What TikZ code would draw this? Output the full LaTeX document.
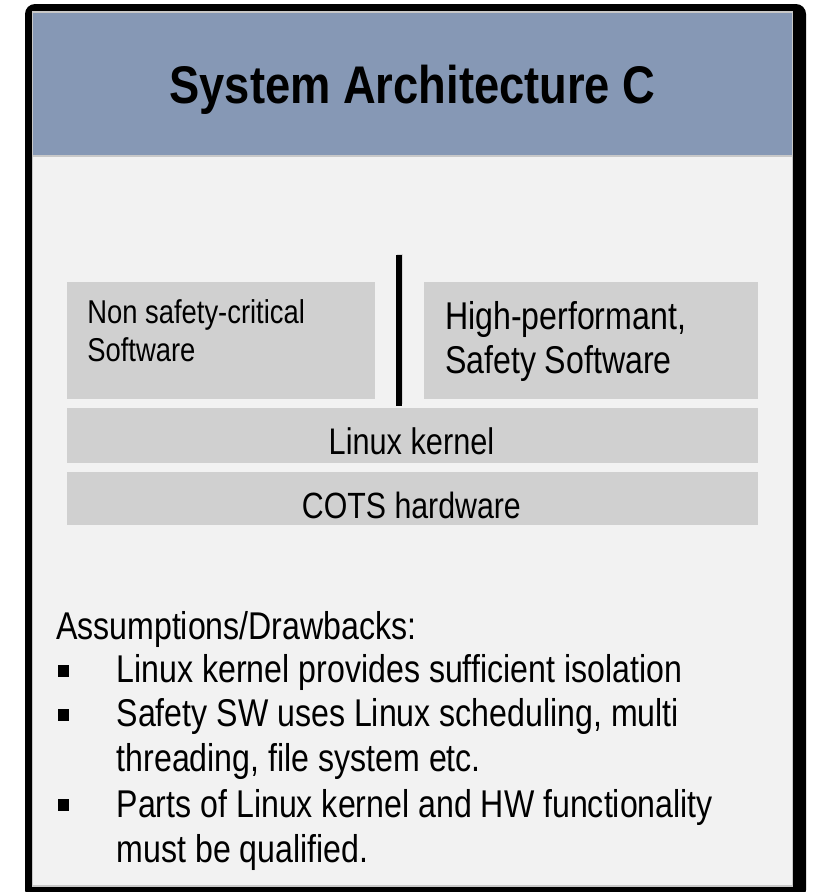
\documentclass[tikz,border=0pt]{standalone}
\usepackage{fontspec}
\newfontfamily\cond[FakeStretch=0.83]{Liberation Sans}
\newfontfamily\condtitle[FakeStretch=0.855]{Liberation Sans}
\definecolor{bandblue}{HTML}{8698B5}
\definecolor{panelgray}{HTML}{F2F2F2}
\definecolor{boxgray}{HTML}{D0D0D0}
\definecolor{edgegray}{HTML}{C8C8C8}
\tikzset{
  layerbox/.style={rectangle, fill=boxgray, draw=none, inner sep=0pt},
  txt/.style={inner sep=0pt, outer sep=0pt, text=black},
  bulletsq/.style={rectangle, fill=black, minimum width=11.5pt, minimum height=11.5pt, inner sep=0pt},
}
\begin{document}
\begin{tikzpicture}[x=1pt, y=-1pt]
\useasboundingbox (0,0) rectangle (813,892);
\fill[white] (0,0) rectangle (813,892);
% frame
\fill[black, rounded corners=10pt] (25,4) rectangle (806,900);
\fill[panelgray] (32.5,12) rectangle (792.5,886);
\fill[bandblue] (33,12.5) rectangle (792,156);
\draw[edgegray, line width=1.2pt] (32.5,12) rectangle (792.5,886);
\draw[edgegray, line width=1.2pt] (33,156) -- (792,156);
% title
\node[txt, anchor=base] (title) at (412.5,103.3) {\condtitle\bfseries\fontsize{53}{60}\selectfont System Architecture C};
% boxes
\node[layerbox, minimum width=308.3pt, minimum height=117.6pt] (nonsafe) at (220.85,340.5) {};
\node[layerbox, minimum width=333.7pt, minimum height=117.6pt] (safe) at (590.85,340.5) {};
\node[layerbox, minimum width=691pt, minimum height=55pt] (kernel) at (412.2,435.8) {};
\node[layerbox, minimum width=691pt, minimum height=53.3pt] (hw) at (412.2,498.35) {};
% separator
\coordinate (sepTop) at (399,255);
\coordinate (sepBot) at (399,405.5);
\draw[black!25, line width=6pt, opacity=0.5] ([xshift=1pt,yshift=1.5pt]sepTop) -- ([xshift=1pt,yshift=1.5pt]sepBot);
\draw[black, line width=6pt] (sepTop) -- (sepBot);
% box texts
\node[txt, anchor=base west] (nonsafeA) at (87.3,323.3) {\cond\fontsize{33}{37}\selectfont Non safety-critical};
\node[txt, anchor=base west] (nonsafeB) at (87.3,361) {\cond\fontsize{33}{37}\selectfont Software};
\node[txt, anchor=base west] (safeA) at (445,329.3) {\cond\fontsize{38.7}{44}\selectfont High-performant,};
\node[txt, anchor=base west] (safeB) at (445,373.3) {\cond\fontsize{38.7}{44}\selectfont Safety Software};
\node[txt, anchor=base] (kernelT) at (411.5,454) {\cond\fontsize{37}{42}\selectfont Linux kernel};
\node[txt, anchor=base] (hwT) at (411.4,518) {\cond\fontsize{36.5}{42}\selectfont COTS hardware};
% assumptions
\node[txt, anchor=base west] (assume) at (56,639.3) {\cond\fontsize{38.7}{44}\selectfont Assumptions/Drawbacks:};
\node[bulletsq] (b1) at (63.5,671) {};
\node[txt, anchor=base west] (l1) at (116.7,682.7) {\cond\fontsize{38.7}{44}\selectfont Linux kernel provides sufficient isolation};
\node[bulletsq] (b2) at (63.5,715) {};
\node[txt, anchor=base west] (l2) at (116.7,726.7) {\cond\fontsize{38.7}{44}\selectfont Safety SW uses Linux scheduling, multi};
\node[txt, anchor=base west] (l3) at (116.7,771.7) {\cond\fontsize{38.7}{44}\selectfont threading, file system etc.};
\node[bulletsq] (b3) at (63.5,805) {};
\node[txt, anchor=base west] (l4) at (116.7,817.3) {\cond\fontsize{38.7}{44}\selectfont Parts of Linux kernel and HW functionality};
\node[txt, anchor=base west] (l5) at (116.7,862.7) {\cond\fontsize{38.7}{44}\selectfont must be qualified.};
\end{tikzpicture}
\end{document}
